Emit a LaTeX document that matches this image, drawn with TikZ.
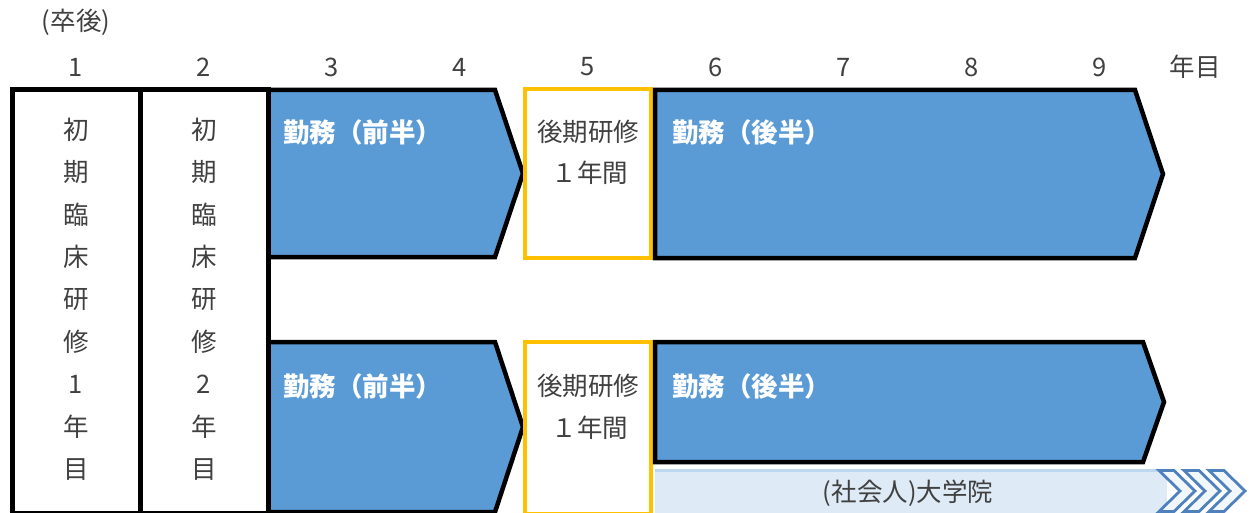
\documentclass[tikz,border=0pt]{standalone}
\usepackage{fontspec}
\setmainfont{Noto Sans CJK JP}
\definecolor{blu}{HTML}{5B9BD5}
\definecolor{ylw}{HTML}{FFC000}
\definecolor{txt}{HTML}{404040}
\definecolor{lbar}{HTML}{DEEBF7}
\definecolor{lbord}{HTML}{BDD7EE}
\definecolor{chev}{HTML}{4F81BD}
\begin{document}
\begin{tikzpicture}[x=1pt,y=-1pt,
  lbl/.style={font=\fontsize{25.5}{30}\selectfont, text=txt, inner sep=0pt},
  wlbl/.style={font=\fontsize{26.5}{30}\selectfont\bfseries, text=white, inner sep=0pt, anchor=west},
  colbox/.style={draw=black, line width=4.5pt, fill=white},
  work/.style={draw=black, line width=4.5pt, fill=blu, line join=miter},
  study/.style={draw=ylw, line width=4pt, fill=white},
  chevshape/.style={draw=chev, line width=2.8pt, fill=lbar!40!white, line join=miter}]
\useasboundingbox (0,0) rectangle (1252,513);

% header labels
\node[lbl] (sotsugo) at (76,22) {(卒後)};
\foreach \n [count=\i from 0] in {1,2,3,4,5,6,7,8,9}
  \node[lbl] (yr\n) at (76+128*\i,67) {\n};
\node[lbl] (nenme) at (1195,67) {年目};

% initial training columns
\draw[colbox] (12.5,89.5) rectangle (140.5,513);
\draw[colbox] (140.5,89.5) rectangle (268.5,513);
\foreach \c [count=\i from 0] in {初,期,臨,床,研,修,1,年,目}
  \node[lbl] (ca\i) at (76,130+42.4*\i) {\c};
\foreach \c [count=\i from 0] in {初,期,臨,床,研,修,2,年,目}
  \node[lbl] (cb\i) at (204,130+42.4*\i) {\c};

% top row
\draw[work] (268.5,90) -- (495,90) -- (523,173.5) -- (495,257) -- (268.5,257) -- cycle;
\draw[study] (525,89.5) rectangle (651,258);
\draw[work] (655,90) -- (1135,90) -- (1163,174) -- (1135,258) -- (655,258) -- cycle;
\node[wlbl] (w1) at (283,132) {勤務（前半）};
\node[lbl] (s1a) at (588,132) {後期研修};
\node[lbl] (s1b) at (590,173) {１年間};
\node[wlbl] (w2) at (672,132) {勤務（後半）};

% bottom row
\draw[work] (268.5,342) -- (495,342) -- (523,427) -- (495,512) -- (268.5,512) -- cycle;
\draw[study] (525,342) rectangle (651,514);
\draw[work] (655,342) -- (1143,342) -- (1164,402) -- (1143,462) -- (655,462) -- cycle;
\node[wlbl] (w3) at (283,386) {勤務（前半）};
\node[lbl] (s2a) at (588,386) {後期研修};
\node[lbl] (s2b) at (590,428) {１年間};
\node[wlbl] (w4) at (672,386) {勤務（後半）};

% graduate school bar
\fill[lbar] (655,469) rectangle (1167,513);
\draw[lbord, line width=3pt] (655,470.5) -- (1167,470.5);
\node[lbl] (grad) at (908,493) {(社会人)大学院};
\foreach \x in {1159,1184,1209}
  \draw[chevshape] (\x,470.5) -- (\x+15,470.5) -- (\x+36,491) -- (\x+15,511.5) -- (\x,511.5) -- (\x+21,491) -- cycle;
\end{tikzpicture}
\end{document}
